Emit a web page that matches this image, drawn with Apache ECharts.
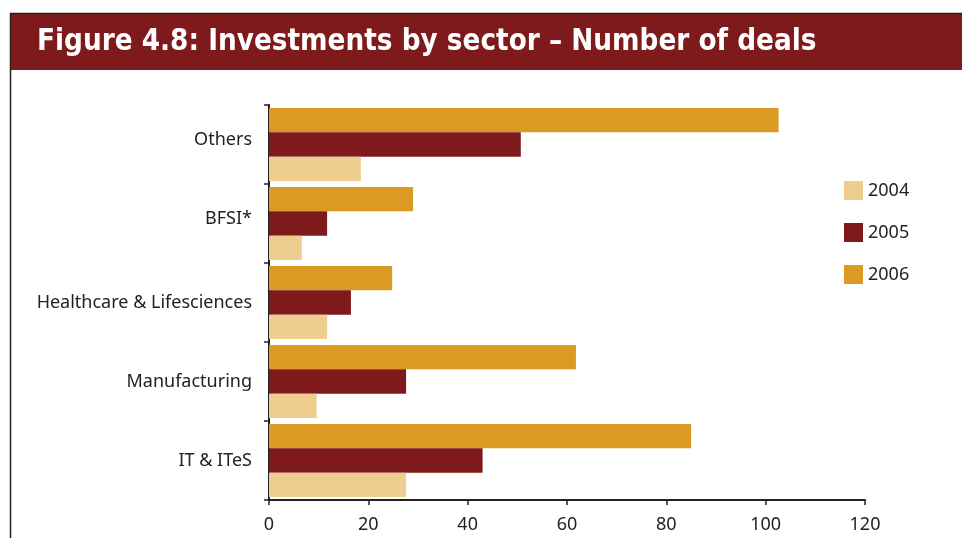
<!DOCTYPE html>
<html><head><meta charset="utf-8">
<script src="https://cdn.jsdelivr.net/npm/echarts@6/dist/echarts.min.js"></script>
<style>html,body{margin:0;padding:0;background:#fff}#c{width:962px;height:538px}</style>
</head><body><div id="c"></div>
<script>
const categories = ['IT & ITeS', 'Manufacturing', 'Healthcare & Lifesciences', 'BFSI*', 'Others'];
const years = ['2004', '2005', '2006'];
const v2004 = [27.6, 9.6, 11.7, 6.6, 18.5];
const v2005 = [43, 27.6, 16.5, 11.7, 50.7];
const v2006 = [85, 61.8, 24.8, 29, 102.6];
const xTicks = [0, 20, 40, 60, 80, 100, 120];
const colors = {'2004': '#EFCD8E', '2005': '#7F1A1C', '2006': '#DA9A24'};
const values = {'2004': v2004, '2005': v2005, '2006': v2006};
const titleText = 'Figure 4.8: Investments by sector – Number of deals';

const chart = echarts.init(document.getElementById('c'), null, {renderer: 'canvas'});
const font = 'Noto Sans';
chart.setOption({
  animation: false,
  title: {
    text: titleText, left: 32, top: 23,
    textStyle: {color: '#fff', fontSize: 29.3, fontWeight: 'bold', fontFamily: 'DejaVu Sans Condensed'}
  },
  graphic: [
    {type: 'rect', z: -1, shape: {x: 10, y: 13, width: 952, height: 57}, style: {fill: '#7F1A1C'}},
    {type: 'line', shape: {x1: 10, y1: 13.5, x2: 962, y2: 13.5}, style: {stroke: '#222', lineWidth: 1.5}},
    {type: 'line', shape: {x1: 10.5, y1: 13, x2: 10.5, y2: 538}, style: {stroke: '#222', lineWidth: 1.5}}
  ],
  legend: {
    orient: 'vertical', left: 839, top: 176, icon: 'rect',
    itemWidth: 19, itemHeight: 19, itemGap: 23,
    data: years,
    textStyle: {fontFamily: font, fontSize: 18, color: '#222'}
  },
  grid: {left: 269, right: 97, top: 105, bottom: 38, containLabel: false},
  xAxis: {
    type: 'value', min: 0, max: 120, interval: 20,
    axisLine: {show: true, lineStyle: {color: '#222', width: 2}},
    axisTick: {show: true, length: 5, lineStyle: {color: '#222', width: 1.5}},
    splitLine: {show: false},
    axisLabel: {fontFamily: font, fontSize: 18, color: '#222', margin: 16,
      formatter: v => xTicks.includes(v) ? String(v) : ''}
  },
  yAxis: {
    type: 'category', data: categories,
    axisLine: {show: true, lineStyle: {color: '#222', width: 2}},
    axisTick: {show: true, length: 5, lineStyle: {color: '#222', width: 1.5}},
    axisLabel: {fontFamily: font, fontSize: 18, color: '#222', margin: 17,
      formatter: (v, i) => i >= 3 ? '{up|' + v + '}' : v,
      rich: {up: {fontFamily: font, fontSize: 18, color: '#222', padding: [0, 0, 10, 0]}}}
  },
  series: ['2006', '2005', '2004'].map(y => ({
    name: y, type: 'bar', data: values[y],
    itemStyle: {color: colors[y]},
    barGap: 0, barCategoryGap: '7.6%'
  }))
});
</script></body></html>
